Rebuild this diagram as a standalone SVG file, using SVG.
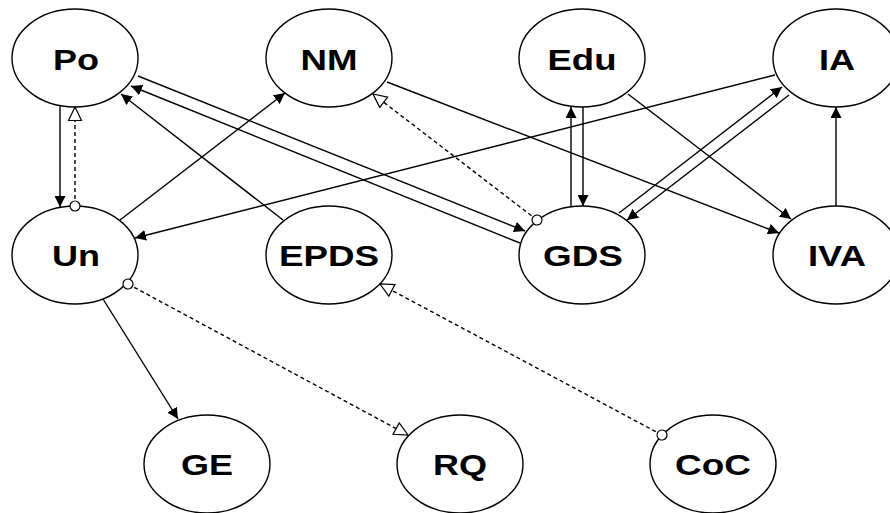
<svg xmlns="http://www.w3.org/2000/svg" width="890" height="513" viewBox="0 0 890 513">
<style>
.node ellipse{fill:#fff;stroke:#000;stroke-width:1.4}
.node text{font-family:"Liberation Sans",Arial,sans-serif;font-weight:bold;font-size:29.5px;text-anchor:middle;fill:#000}
.edge{stroke:#000;stroke-width:1.4;fill:none}
.solid{marker-end:url(#arrow)}
.dash{stroke-dasharray:4 3;marker-start:url(#circ);marker-end:url(#tri)}
</style>
<defs>
<marker id="arrow" markerUnits="userSpaceOnUse" viewBox="0 0 11 11" markerWidth="11" markerHeight="11" refX="11" refY="5.5" orient="auto">
<path d="M0,0 L11,5.5 L0,11 z" fill="#000"/>
</marker>
<marker id="tri" markerUnits="userSpaceOnUse" viewBox="0 0 16 16" markerWidth="16" markerHeight="16" refX="15" refY="8" orient="auto">
<path d="M1.5,1.5 L15,8 L1.5,14.5 z" fill="#fff" stroke="#000" stroke-width="1.2"/>
</marker>
<marker id="circ" markerUnits="userSpaceOnUse" viewBox="0 0 14 14" markerWidth="14" markerHeight="14" refX="7" refY="7" orient="auto">
<circle cx="7" cy="7" r="5" fill="#fff" stroke="#000" stroke-width="1.2"/>
</marker>
</defs>
<g id="Po" class="node"><ellipse cx="75" cy="58" rx="63" ry="49"/><text x="76" y="69.5" textLength="46" lengthAdjust="spacingAndGlyphs">Po</text></g>
<g id="NM" class="node"><ellipse cx="329" cy="58" rx="63" ry="49"/><text x="329" y="69.5" textLength="57" lengthAdjust="spacingAndGlyphs">NM</text></g>
<g id="Edu" class="node"><ellipse cx="582" cy="58" rx="63" ry="49"/><text x="582" y="69.5" textLength="69" lengthAdjust="spacingAndGlyphs">Edu</text></g>
<g id="IA" class="node"><ellipse cx="836" cy="58" rx="63" ry="49"/><text x="837" y="69.5" textLength="36" lengthAdjust="spacingAndGlyphs">IA</text></g>
<g id="Un" class="node"><ellipse cx="75" cy="255" rx="63" ry="49"/><text x="76" y="265.5" textLength="48" lengthAdjust="spacingAndGlyphs">Un</text></g>
<g id="EPDS" class="node"><ellipse cx="329" cy="255" rx="63" ry="49"/><text x="329" y="265.5" textLength="100" lengthAdjust="spacingAndGlyphs">EPDS</text></g>
<g id="GDS" class="node"><ellipse cx="582" cy="255" rx="63" ry="49"/><text x="583" y="265.5" textLength="80" lengthAdjust="spacingAndGlyphs">GDS</text></g>
<g id="IVA" class="node"><ellipse cx="836" cy="255" rx="63" ry="49"/><text x="837" y="265.5" textLength="58" lengthAdjust="spacingAndGlyphs">IVA</text></g>
<g id="GE" class="node"><ellipse cx="207" cy="464" rx="63" ry="49"/><text x="207" y="474.5" textLength="52" lengthAdjust="spacingAndGlyphs">GE</text></g>
<g id="RQ" class="node"><ellipse cx="460" cy="464" rx="63" ry="49"/><text x="460" y="474.5" textLength="54" lengthAdjust="spacingAndGlyphs">RQ</text></g>
<g id="CoC" class="node"><ellipse cx="713" cy="464" rx="63" ry="49"/><text x="713" y="474.5" textLength="76" lengthAdjust="spacingAndGlyphs">CoC</text></g>
<g id="connectors">
<line class="edge solid" x1="60" y1="106" x2="60" y2="207"/>
<line class="edge dash" x1="75" y1="206" x2="75" y2="107"/>
<line class="edge solid" x1="120" y1="220" x2="285" y2="93"/>
<line class="edge solid" x1="283" y1="220" x2="121" y2="94"/>
<line class="edge solid" x1="138" y1="76" x2="525" y2="231"/>
<line class="edge solid" x1="520" y1="243" x2="131" y2="86"/>
<line class="edge dash" x1="537" y1="220" x2="373" y2="94"/>
<line class="edge solid" x1="387" y1="82" x2="779" y2="233"/>
<line class="edge solid" x1="775" y1="75" x2="135" y2="238"/>
<line class="edge solid" x1="571" y1="207" x2="571" y2="107"/>
<line class="edge solid" x1="583" y1="107" x2="583" y2="206"/>
<line class="edge solid" x1="619" y1="213" x2="782" y2="87"/>
<line class="edge solid" x1="789" y1="95" x2="627" y2="220"/>
<line class="edge solid" x1="628" y1="94" x2="791" y2="219"/>
<line class="edge solid" x1="836" y1="206" x2="836" y2="107"/>
<line class="edge solid" x1="103" y1="299" x2="178" y2="419"/>
<line class="edge dash" x1="128" y1="284" x2="408" y2="435"/>
<line class="edge dash" x1="662" y1="435" x2="380" y2="284"/>
</g>
</svg>
